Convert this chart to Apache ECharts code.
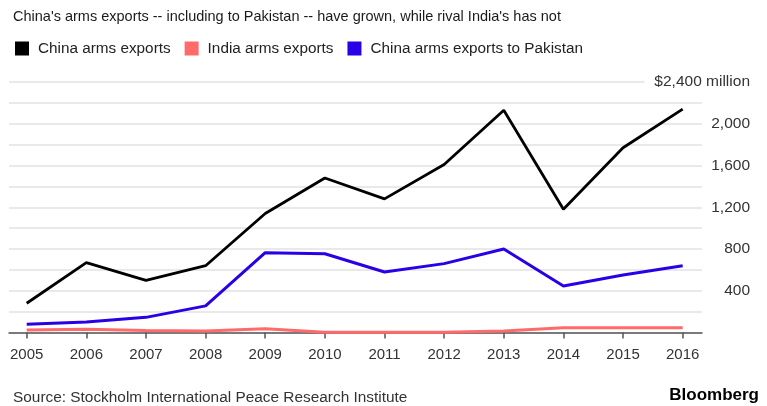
<!DOCTYPE html>
<html><head><meta charset="utf-8">
<script src="https://cdn.jsdelivr.net/npm/echarts@6/dist/echarts.min.js"></script>
<style>html,body{margin:0;padding:0;background:#fff}#c{width:767px;height:406px}</style>
</head><body><div id="c"></div>
<script>
var years = [2005,2006,2007,2008,2009,2010,2011,2012,2013,2014,2015,2016];
var chinaExports = [280,670,500,640,1140,1480,1280,1610,2130,1180,1770,2140];
var indiaExports = [25,30,20,15,35,3,3,3,15,45,45,45];
var chinaToPakistan = [80,100,145,255,765,755,580,660,800,445,550,640];
var yTickLabels = {400:'400',800:'800',1200:'1,200',1600:'1,600',2000:'2,000',2400:'$2,400 million'};

function pairs(vals){ return years.map(function(y,i){ return [y, vals[i]]; }); }
var FONT = '"Liberation Sans", Arial, sans-serif';
var chart = echarts.init(document.getElementById('c'), null, {renderer:'canvas'});
chart.setOption({
  animation:false,
  backgroundColor:'#fff',
  title:[{
    text:"China's arms exports -- including to Pakistan -- have grown, while rival India's has not",
    left:8, top:4,
    textStyle:{fontFamily:FONT,fontSize:14.5,fontWeight:'normal',color:'#1a1a1a'}
  },{
    text:'Source: Stockholm International Peace Research Institute',
    left:8, top:385,
    textStyle:{fontFamily:FONT,fontSize:15.4,fontWeight:'normal',color:'#333'}
  },{
    text:'Bloomberg',
    right:3, top:382,
    textStyle:{fontFamily:FONT,fontSize:17,fontWeight:'bold',color:'#000',letterSpacing:-0.3}
  }],
  legend:{
    left:10, top:36, icon:'rect', itemWidth:14, itemHeight:14, itemGap:14,
    textStyle:{fontFamily:FONT,fontSize:15.3,color:'#222',padding:[0,0,0,4]},
    data:['China arms exports','India arms exports','China arms exports to Pakistan']
  },
  grid:{left:9,right:65,top:82,bottom:73.5,containLabel:false},
  xAxis:{
    type:'value', min:2004.703, max:2016.324,
    splitLine:{show:false},
    axisLine:{show:true,lineStyle:{color:'#555',width:1.5}},
    axisTick:{show:true,length:6,lineStyle:{color:'#555',width:1.5},customValues:years},
    axisLabel:{fontFamily:FONT,fontSize:15,color:'#333',margin:15,customValues:years,formatter:function(v){return String(v);}}
  },
  yAxis:{
    type:'value', position:'right', min:0, max:2400, interval:200,
    axisLine:{show:false}, axisTick:{show:false},
    splitLine:{show:true,lineStyle:{color:'#e2e2e2',width:1.5}},
    axisLabel:{
      fontFamily:FONT,fontSize:15.5,color:'#333',align:'right',margin:48,
      formatter:function(v){
        if(v===2400) return '{top|'+yTickLabels[v]+'}';
        return yTickLabels[v] || '';
      },
      rich:{top:{fontFamily:FONT,fontSize:15.5,color:'#333',backgroundColor:'#fff',padding:[3,0,3,10]}}
    }
  },
  series:[
    {name:'China arms exports',type:'line',data:pairs(chinaExports),showSymbol:false,symbol:'none',
     itemStyle:{color:'#000'},lineStyle:{color:'#000',width:2.8},z:3},
    {name:'India arms exports',type:'line',data:pairs(indiaExports),showSymbol:false,symbol:'none',
     itemStyle:{color:'#ff6a6a'},lineStyle:{color:'#ff6a6a',width:3},z:2},
    {name:'China arms exports to Pakistan',type:'line',data:pairs(chinaToPakistan),showSymbol:false,symbol:'none',
     itemStyle:{color:'#2a00e6'},lineStyle:{color:'#2a00e6',width:3},z:4}
  ]
});
</script></body></html>
